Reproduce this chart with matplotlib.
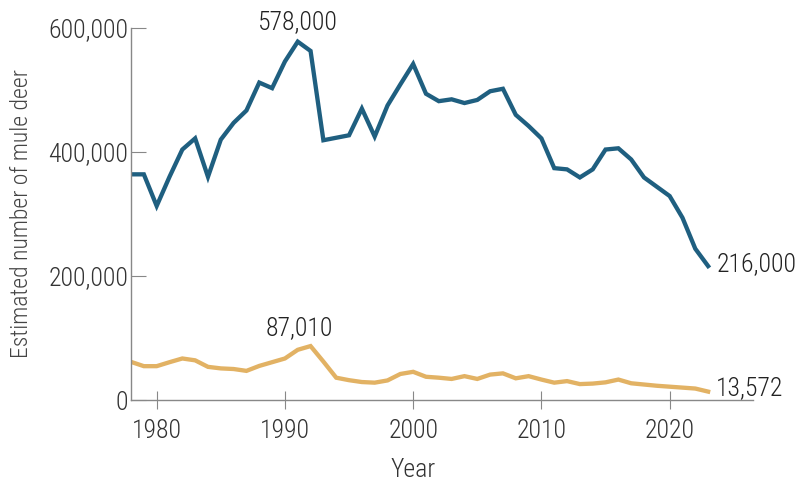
import matplotlib.pyplot as plt
from matplotlib import font_manager
from matplotlib.font_manager import FontProperties
from matplotlib.ticker import FuncFormatter

years = list(range(1978, 2024))
mule_deer = [364, 364, 313, 360, 404, 422, 360, 420, 447, 467, 512, 503, 546, 578, 563,
             419, 423, 427, 470, 425, 475, 509, 542, 494, 482, 485, 479, 484, 498, 502,
             460, 442, 422, 374, 372, 359, 372, 404, 406, 388, 359, 344, 329, 294, 244, 216]
other = [61.5, 54.6, 54.6, 61, 67, 64, 53.5, 51, 50, 47, 55, 61, 67, 81, 87.01,
         62, 36, 32, 29, 28, 31.6, 42, 45.5, 37.5, 36, 34, 38.5, 34, 41, 43,
         35, 38.5, 33, 28, 30.5, 25.7, 26.5, 28.5, 33, 27, 25, 23, 21.5, 20, 18.5, 13.572]
mule_deer = [v * 1000 for v in mule_deer]
other = [v * 1000 for v in other]

# condensed light face, like the original
wanted = ["RobotoCondensed-Light.ttf", "BarlowCondensed-Light.ttf",
          "RobotoCondensed-Regular.ttf", "BarlowCondensed-Regular.ttf",
          "PTSansNarrow-Regular.ttf", "LiberationSansNarrow-Regular.ttf"]
paths = {f.fname.split("/")[-1]: f.fname for f in font_manager.fontManager.ttflist}
path = next((paths[w] for w in wanted if w in paths), None)
if path is None:
    path = next((p for n, p in sorted(paths.items()) if n.startswith("RobotoCondensed")), None)
if path:
    fp = FontProperties(fname=path, size=18.5)
    fp_y = FontProperties(fname=path, size=17)
else:
    fp = FontProperties(family="DejaVu Sans", size=15)
    fp_y = FontProperties(family="DejaVu Sans", size=14)

fig = plt.figure(figsize=(7.97, 4.83), dpi=100)
ax = fig.add_axes([0.1644, 0.1718, 0.7804, 0.7702])

ax.plot(years, mule_deer, color="#1f5f80", lw=3.1, solid_joinstyle="miter")
ax.plot(years, other, color="#e2b264", lw=3.1, solid_joinstyle="miter")

ax.set_xlim(1978, 2026.5)
ax.set_ylim(0, 600000)
ax.set_xticks([1980, 1990, 2000, 2010, 2020])
ax.set_yticks([0, 200000, 400000, 600000])
ax.yaxis.set_major_formatter(FuncFormatter(lambda v, p: f"{int(v):,}"))

for s in ["top", "right"]:
    ax.spines[s].set_visible(False)
for s in ["left", "bottom"]:
    ax.spines[s].set_color("#888888")
    ax.spines[s].set_linewidth(1)
ax.tick_params(axis="y", direction="in", length=11, color="#888888",
               labelcolor="#333333", pad=2)
ax.tick_params(axis="x", direction="inout", length=13, color="#888888",
               labelcolor="#333333", pad=7.5)
for lab in ax.get_xticklabels() + ax.get_yticklabels():
    lab.set_fontproperties(fp)

ax.set_xlabel("Year", fontproperties=fp, color="#333333")
ax.xaxis.set_label_coords(0.453, -0.155)
ax.set_ylabel("Estimated number of mule deer", fontproperties=fp_y, color="#444444")
ax.yaxis.set_label_coords(-0.158, 0.5)

ax.text(1991.0, 590000, "578,000", fontproperties=fp, color="#222222", ha="center",
        va="bottom", clip_on=False)
ax.text(1991.1, 96000, "87,010", fontproperties=fp, color="#222222", ha="center",
        va="bottom")
ax.text(2023.7, 219000, "216,000", fontproperties=fp, color="#222222", ha="left",
        va="center", clip_on=False)
ax.text(2023.6, 20000, "13,572", fontproperties=fp, color="#222222", ha="left",
        va="center", clip_on=False)

fig.savefig("out.png", dpi=100)
